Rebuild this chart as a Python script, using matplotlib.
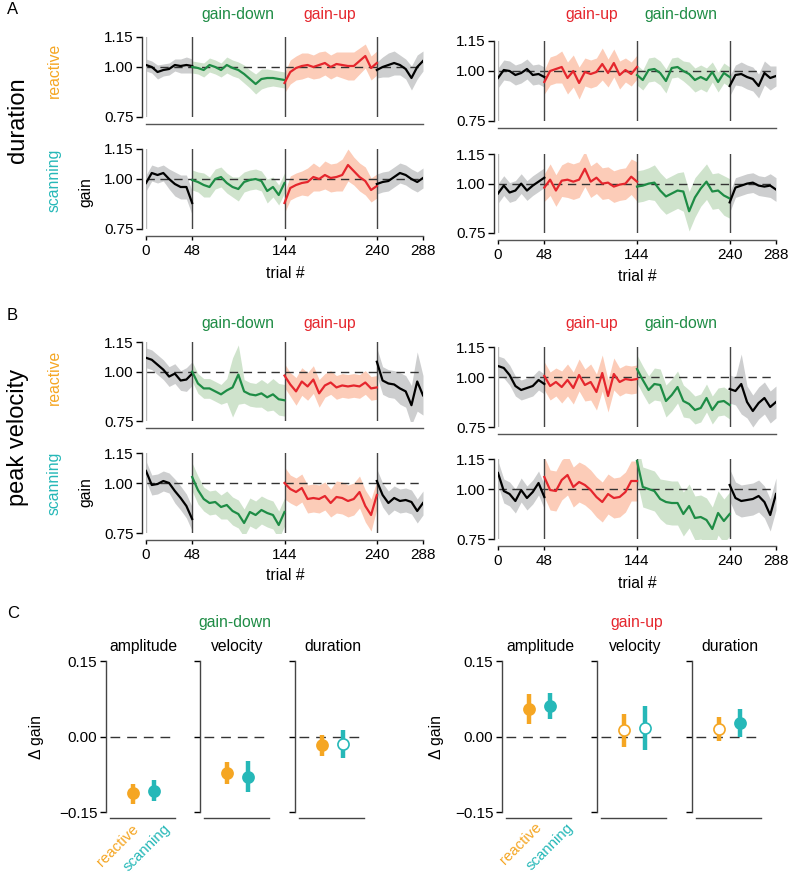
import numpy as np
import matplotlib
matplotlib.use("Agg")
import matplotlib.pyplot as plt

W, H = 788, 880

plt.rcParams.update({
    "font.family": ["Liberation Sans", "DejaVu Sans"],
    "font.size": 11,
    "axes.linewidth": 1.0,
    "xtick.major.size": 3,
    "ytick.major.size": 3,
    "xtick.major.width": 1.0,
    "ytick.major.width": 1.0,
    "xtick.labelsize": 11,
    "ytick.labelsize": 11,
})

GREEN = "#1E8C45"
RED = "#E5262D"
ORANGE = "#F5A623"
CYAN = "#26B8B8"
BAND = {"k": "#CDCECF", GREEN: "#CFE3CC", RED: "#FCCCB8"}
FS = 11.3

# trial blocks; values sampled every 6 trials inside each block
SEG_EDGES = [0, 48, 144, 240, 288]
STEP = 6

# ---- A: duration gain, left (down then up) / right (up then down) ----
DUR_REACT_L = [
    [1.01, 1.00, 0.975, 0.985, 0.99, 1.01, 1.005, 1.01, 1.005],
    [1.0, 0.995, 0.985, 1.01, 1.0, 0.985, 1.01, 0.995, 0.985, 0.965, 0.94, 0.915, 0.94, 0.945, 0.945, 0.94, 0.935],
    [0.92, 0.975, 0.995, 1.005, 1.01, 1.0, 1.01, 1.02, 1.0, 1.015, 1.01, 1.005, 1.005, 1.03, 1.055, 0.995, 1.02],
    [0.985, 1.0, 1.01, 1.02, 1.01, 0.99, 0.945, 1.0, 1.03],
]
DUR_REACT_L_SD = [
    [0.03, 0.03, 0.035, 0.03, 0.03, 0.03, 0.035, 0.04, 0.035],
    [0.03, 0.03, 0.035, 0.035, 0.035, 0.035, 0.04, 0.04, 0.04, 0.045, 0.045, 0.05, 0.05, 0.045, 0.04, 0.04, 0.04],
    [0.05, 0.06, 0.06, 0.065, 0.06, 0.06, 0.065, 0.06, 0.06, 0.06, 0.065, 0.07, 0.07, 0.065, 0.06, 0.06, 0.06],
    [0.04, 0.05, 0.06, 0.06, 0.05, 0.05, 0.06, 0.06, 0.05],
]
DUR_SCAN_L = [
    [0.98, 1.03, 1.02, 1.03, 1.0, 0.975, 0.96, 0.96, 0.88],
    [0.995, 0.985, 0.97, 0.96, 1.0, 1.01, 0.98, 0.96, 0.95, 0.985, 0.995, 1.0, 0.99, 0.94, 0.96, 0.92, 0.98],
    [0.88, 0.955, 0.97, 0.98, 0.985, 1.01, 1.0, 1.02, 1.005, 1.01, 1.02, 1.07, 1.04, 1.01, 0.99, 0.945, 0.965],
    [0.975, 0.985, 0.99, 1.01, 1.03, 1.02, 1.0, 0.985, 1.005],
]
DUR_SCAN_L_SD = [
    [0.04, 0.04, 0.04, 0.04, 0.05, 0.06, 0.06, 0.06, 0.06],
    [0.05, 0.05, 0.06, 0.05, 0.05, 0.05, 0.05, 0.05, 0.06, 0.05, 0.05, 0.05, 0.05, 0.06, 0.05, 0.05, 0.05],
    [0.05, 0.06, 0.06, 0.06, 0.07, 0.07, 0.06, 0.07, 0.07, 0.07, 0.08, 0.08, 0.07, 0.07, 0.07, 0.06, 0.06],
    [0.05, 0.05, 0.05, 0.05, 0.05, 0.05, 0.05, 0.05, 0.05],
]
DUR_REACT_R = [
    [0.965, 1.005, 1.0, 0.98, 0.99, 1.01, 0.98, 0.985, 0.97],
    [0.945, 1.0, 1.01, 1.02, 0.965, 1.0, 0.94, 0.995, 0.985, 0.995, 1.035, 0.99, 1.04, 0.98, 1.005, 0.985, 1.02],
    [0.98, 0.955, 1.005, 1.01, 0.99, 0.95, 1.015, 1.02, 1.0, 0.985, 0.955, 0.97, 0.955, 0.995, 0.945, 0.99, 0.97],
    [0.925, 0.98, 0.985, 0.97, 0.96, 0.925, 0.99, 0.965, 0.975],
]
DUR_REACT_R_SD = [
    [0.05, 0.05, 0.05, 0.05, 0.05, 0.05, 0.05, 0.05, 0.05],
    [0.06, 0.07, 0.07, 0.08, 0.08, 0.08, 0.08, 0.07, 0.07, 0.07, 0.08, 0.07, 0.07, 0.07, 0.06, 0.06, 0.06],
    [0.05, 0.05, 0.06, 0.06, 0.06, 0.06, 0.05, 0.05, 0.05, 0.06, 0.06, 0.06, 0.06, 0.05, 0.05, 0.05, 0.05],
    [0.05, 0.05, 0.06, 0.06, 0.06, 0.06, 0.06, 0.06, 0.05],
]
DUR_SCAN_R = [
    [0.95, 0.99, 0.955, 0.965, 1.0, 0.965, 0.99, 1.01, 1.03],
    [0.98, 1.02, 0.965, 1.015, 1.02, 1.01, 1.02, 1.075, 1.01, 1.03, 1.0, 1.005, 0.985, 0.995, 1.0, 1.035, 1.01],
    [0.985, 0.99, 1.0, 1.005, 0.965, 0.935, 0.95, 0.965, 0.96, 0.86, 0.93, 0.975, 1.01, 0.96, 0.965, 0.94, 0.925],
    [0.905, 0.98, 0.99, 1.0, 1.005, 0.99, 0.985, 0.99, 0.97],
]
DUR_SCAN_R_SD = [
    [0.05, 0.05, 0.05, 0.05, 0.05, 0.05, 0.05, 0.05, 0.05],
    [0.07, 0.08, 0.08, 0.08, 0.09, 0.09, 0.09, 0.09, 0.08, 0.08, 0.08, 0.08, 0.08, 0.08, 0.08, 0.09, 0.1],
    [0.08, 0.08, 0.08, 0.09, 0.09, 0.09, 0.09, 0.09, 0.1, 0.1, 0.1, 0.09, 0.09, 0.09, 0.09, 0.1, 0.1],
    [0.05, 0.05, 0.05, 0.05, 0.05, 0.05, 0.05, 0.06, 0.06],
]

# ---- B: peak velocity gain ----
VEL_REACT_L = [
    [1.07, 1.06, 1.035, 1.01, 0.975, 0.99, 0.955, 0.96, 0.99],
    [1.0, 0.94, 0.915, 0.915, 0.9, 0.885, 0.905, 0.92, 0.985, 0.9, 0.885, 0.88, 0.89, 0.87, 0.885, 0.86, 0.855],
    [0.98, 0.935, 0.9, 0.95, 0.925, 0.96, 0.89, 0.93, 0.945, 0.92, 0.93, 0.925, 0.93, 0.925, 0.945, 0.915, 0.92],
    [1.05, 0.955, 0.94, 0.935, 0.915, 0.9, 0.83, 0.95, 0.88],
]
VEL_REACT_L_SD = [
    [0.05, 0.05, 0.05, 0.05, 0.05, 0.05, 0.05, 0.06, 0.06],
    [0.05, 0.05, 0.05, 0.05, 0.05, 0.05, 0.06, 0.15, 0.15, 0.06, 0.06, 0.06, 0.07, 0.07, 0.08, 0.08, 0.08],
    [0.06, 0.06, 0.07, 0.07, 0.07, 0.07, 0.07, 0.06, 0.06, 0.06, 0.06, 0.06, 0.06, 0.06, 0.06, 0.06, 0.06],
    [0.07, 0.07, 0.07, 0.07, 0.08, 0.08, 0.1, 0.15, 0.1],
]
VEL_SCAN_L = [
    [1.06, 0.99, 0.995, 1.01, 1.0, 0.96, 0.925, 0.885, 0.82],
    [1.03, 0.965, 0.92, 0.9, 0.905, 0.88, 0.89, 0.86, 0.845, 0.8, 0.855, 0.84, 0.865, 0.85, 0.84, 0.79, 0.855],
    [1.0, 0.97, 0.955, 0.975, 0.92, 0.925, 0.92, 0.935, 0.9, 0.93, 0.925, 0.91, 0.92, 0.955, 0.885, 0.84, 0.94],
    [1.01, 0.94, 0.9, 0.925, 0.91, 0.915, 0.905, 0.86, 0.9],
]
VEL_SCAN_L_SD = [
    [0.05, 0.05, 0.05, 0.05, 0.05, 0.06, 0.06, 0.06, 0.06],
    [0.07, 0.07, 0.06, 0.06, 0.06, 0.06, 0.07, 0.07, 0.07, 0.07, 0.07, 0.07, 0.07, 0.07, 0.07, 0.07, 0.07],
    [0.08, 0.07, 0.07, 0.07, 0.07, 0.07, 0.07, 0.07, 0.07, 0.08, 0.08, 0.08, 0.08, 0.08, 0.08, 0.08, 0.07],
    [0.06, 0.06, 0.06, 0.06, 0.06, 0.06, 0.06, 0.06, 0.06],
]
VEL_REACT_R = [
    [1.055, 1.045, 1.01, 0.955, 0.935, 0.945, 0.955, 0.985, 0.965],
    [1.005, 0.955, 0.975, 0.95, 0.985, 0.945, 1.01, 0.96, 0.975, 0.925, 1.02, 0.905, 1.015, 0.975, 0.99, 0.985, 0.99],
    [1.04, 0.985, 0.935, 0.965, 0.96, 0.88, 0.91, 0.95, 0.88, 0.865, 0.835, 0.845, 0.895, 0.835, 0.875, 0.88, 0.86],
    [0.94, 0.93, 0.965, 0.875, 0.83, 0.87, 0.895, 0.85, 0.875],
]
VEL_REACT_R_SD = [
    [0.05, 0.05, 0.05, 0.05, 0.05, 0.05, 0.05, 0.05, 0.05],
    [0.07, 0.07, 0.07, 0.08, 0.08, 0.08, 0.08, 0.08, 0.09, 0.09, 0.09, 0.08, 0.08, 0.07, 0.07, 0.07, 0.07],
    [0.07, 0.07, 0.07, 0.08, 0.08, 0.08, 0.08, 0.08, 0.08, 0.07, 0.07, 0.07, 0.07, 0.07, 0.07, 0.07, 0.07],
    [0.07, 0.07, 0.15, 0.08, 0.08, 0.08, 0.08, 0.08, 0.08],
]
VEL_SCAN_R = [
    [1.08, 0.99, 0.975, 0.94, 0.995, 0.955, 0.985, 1.03, 0.96],
    [1.06, 0.995, 0.99, 1.045, 1.07, 1.01, 1.035, 1.02, 0.995, 0.96, 0.935, 0.975, 0.955, 0.96, 0.985, 1.04, 1.04],
    [1.14, 1.01, 1.0, 0.99, 0.95, 0.935, 0.93, 0.93, 0.875, 0.915, 0.855, 0.86, 0.845, 0.8, 0.88, 0.84, 0.875],
    [1.02, 0.955, 0.94, 0.945, 0.95, 0.965, 0.935, 0.87, 0.975],
]
VEL_SCAN_R_SD = [
    [0.06, 0.06, 0.06, 0.06, 0.06, 0.06, 0.06, 0.06, 0.06],
    [0.1, 0.1, 0.1, 0.1, 0.1, 0.1, 0.1, 0.1, 0.1, 0.1, 0.1, 0.1, 0.1, 0.1, 0.1, 0.1, 0.1],
    [0.1, 0.1, 0.1, 0.1, 0.1, 0.11, 0.11, 0.11, 0.11, 0.11, 0.11, 0.11, 0.11, 0.11, 0.11, 0.11, 0.11],
    [0.08, 0.08, 0.08, 0.08, 0.08, 0.08, 0.08, 0.08, 0.08],
]

# ---- C: change in gain, mean and error bar ----
C_MEASURES = ["amplitude", "velocity", "duration"]
DOWN_REACT = [-0.113, -0.072, -0.017]
DOWN_REACT_LO = [-0.134, -0.094, -0.038]
DOWN_REACT_HI = [-0.094, -0.050, 0.002]
DOWN_SCAN = [-0.108, -0.080, -0.015]
DOWN_SCAN_LO = [-0.129, -0.111, -0.042]
DOWN_SCAN_HI = [-0.086, -0.048, 0.013]
DOWN_REACT_OPEN = [False, False, False]
DOWN_SCAN_OPEN = [False, False, True]
UP_REACT = [0.055, 0.012, 0.015]
UP_REACT_LO = [0.025, -0.021, -0.008]
UP_REACT_HI = [0.085, 0.044, 0.038]
UP_SCAN = [0.060, 0.017, 0.027]
UP_SCAN_LO = [0.034, -0.026, -0.001]
UP_SCAN_HI = [0.087, 0.060, 0.055]
UP_REACT_OPEN = [False, True, True]
UP_SCAN_OPEN = [False, True, False]


def px_axes(fig, x0, y0, x1, y1):
    return fig.add_axes([x0 / W, 1 - y1 / H, (x1 - x0) / W, (y1 - y0) / H])


def ftext(fig, x, y, s, **kw):
    kw.setdefault("ha", "center")
    kw.setdefault("va", "center")
    fig.text(x / W, 1 - y / H, s, **kw)


def ts_panel(fig, box, means, sds, colors, bottom_ticks):
    ax = px_axes(fig, *box)
    for i in range(4):
        x = np.arange(SEG_EDGES[i], SEG_EDGES[i + 1] + 1, STEP)
        m = np.array(means[i])
        s = np.array(sds[i])
        ax.fill_between(x, m - s, m + s, color=BAND[colors[i]], lw=0, zorder=1)
    ax.plot([0, 288], [1, 1], color="#333333", lw=1.0, dashes=(6, 4), zorder=2)
    ax.axvline(0, color="#BBBBBB", lw=1.0, zorder=3)
    for xv in SEG_EDGES[1:4]:
        ax.axvline(xv, color="#444444", lw=1.0, zorder=3)
    for i in range(4):
        x = np.arange(SEG_EDGES[i], SEG_EDGES[i + 1] + 1, STEP)
        ax.plot(x, means[i], color=colors[i], lw=1.6, zorder=4)
    ax.set_xlim(0, 288)
    ax.set_ylim(0.75, 1.15)
    ax.spines[["top", "right"]].set_visible(False)
    ax.spines["left"].set_position(("outward", 3))
    ax.spines["left"].set_bounds(0.75, 1.15)
    ax.spines["bottom"].set_position(("outward", 5))
    ax.spines["left"].set_color("#333333")
    ax.spines["bottom"].set_color("#555555")
    ax.set_yticks([0.75, 1.0, 1.15])
    ax.set_yticklabels(["0.75", "1.00", "1.15"])
    ax.tick_params(axis="y", length=4, pad=2)
    if bottom_ticks:
        ax.set_xticks([0, 48, 144, 240, 288])
        ax.tick_params(axis="x", length=3, pad=3)
    else:
        ax.set_xticks([])
    return ax


def c_panel(fig, spine_x, measure_idx, vals, show_labels):
    ax = px_axes(fig, spine_x + 3, 661, spine_x + 68, 812)
    (r, rlo, rhi, ropen), (s, slo, shi, sopen) = vals
    for xpos, m, lo, hi, op, col in [(1, r, rlo, rhi, ropen, ORANGE),
                                     (2, s, slo, shi, sopen, CYAN)]:
        ax.plot([xpos, xpos], [lo[measure_idx], hi[measure_idx]], color=col,
                lw=3.2, solid_capstyle="butt", zorder=3)
        ax.plot(xpos, m[measure_idx], "o", ms=8,
                mfc="white" if op[measure_idx] else col, mec=col, mew=1.2, zorder=4)
    ax.plot([-0.05, 2.95], [0, 0], color="#333333", lw=1.0, dashes=(7, 5), zorder=1)
    ax.set_xlim(-0.05, 2.95)
    ax.set_ylim(-0.15, 0.15)
    ax.spines[["top", "right"]].set_visible(False)
    ax.spines["left"].set_position(("outward", 3))
    ax.spines["bottom"].set_position(("outward", 4))
    ax.spines["left"].set_color("#444444")
    ax.spines["bottom"].set_color("#444444")
    ax.set_xticks([])
    ax.set_yticks([-0.15, 0, 0.15])
    if show_labels:
        ax.set_yticklabels(["\u22120.15", "0.00", "0.15"])
    else:
        ax.set_yticklabels([])
    ax.tick_params(axis="y", length=4, pad=2)
    return ax


fig = plt.figure(figsize=(W / 100, H / 100), dpi=100)

k = "k"
LEFT_COLS = [k, GREEN, RED, k]
RIGHT_COLS = [k, RED, GREEN, k]

# panel A
ts_panel(fig, (146, 37, 423, 117), DUR_REACT_L, DUR_REACT_L_SD, LEFT_COLS, False)
ts_panel(fig, (146, 149, 423, 229), DUR_SCAN_L, DUR_SCAN_L_SD, LEFT_COLS, True)
ts_panel(fig, (498, 41, 776, 121), DUR_REACT_R, DUR_REACT_R_SD, RIGHT_COLS, False)
ts_panel(fig, (498, 154, 776, 233), DUR_SCAN_R, DUR_SCAN_R_SD, RIGHT_COLS, True)

# panel B
ts_panel(fig, (146, 342, 423, 421), VEL_REACT_L, VEL_REACT_L_SD, LEFT_COLS, False)
ts_panel(fig, (146, 453, 423, 533), VEL_SCAN_L, VEL_SCAN_L_SD, LEFT_COLS, True)
ts_panel(fig, (498, 347, 776, 427), VEL_REACT_R, VEL_REACT_R_SD, RIGHT_COLS, False)
ts_panel(fig, (498, 459, 776, 539), VEL_SCAN_R, VEL_SCAN_R_SD, RIGHT_COLS, True)

for y_top, y_react, y_scan, y_gain, y_trial_l, y_trial_r, letter, big, y_big, y_letter in [
        (15, 70, 180, 192, 273, 276, "A", "duration", 120, 9),
        (323, 377, 483, 492, 576, 583, "B", "peak velocity", 437, 315)]:
    ftext(fig, 7, y_letter, letter, fontsize=12, ha="left")
    ftext(fig, 18, y_big, big, fontsize=17, rotation=90)
    ftext(fig, 54, y_react, "reactive", color=ORANGE, fontsize=FS, rotation=90)
    ftext(fig, 54, y_scan, "scanning", color=CYAN, fontsize=FS, rotation=90)
    ftext(fig, 86, y_gain, "gain", fontsize=FS, rotation=90)
    ftext(fig, 238, y_top, "gain-down", color=GREEN, fontsize=FS)
    ftext(fig, 330, y_top, "gain-up", color=RED, fontsize=FS)
    ftext(fig, 592, y_top, "gain-up", color=RED, fontsize=FS)
    ftext(fig, 681, y_top, "gain-down", color=GREEN, fontsize=FS)
    ftext(fig, 285, y_trial_l, "trial #", fontsize=FS)
    ftext(fig, 637, y_trial_r, "trial #", fontsize=FS)

# panel C
down_vals = ((DOWN_REACT, DOWN_REACT_LO, DOWN_REACT_HI, DOWN_REACT_OPEN),
             (DOWN_SCAN, DOWN_SCAN_LO, DOWN_SCAN_HI, DOWN_SCAN_OPEN))
up_vals = ((UP_REACT, UP_REACT_LO, UP_REACT_HI, UP_REACT_OPEN),
           (UP_SCAN, UP_SCAN_LO, UP_SCAN_HI, UP_SCAN_OPEN))

ftext(fig, 7, 613, "C", fontsize=12, ha="left")
for spines, vals, title, tcol, tx, title_xs, dgx, lab_xy in [
        ([107, 201, 296], down_vals, "gain-down", GREEN, 235, [143, 237, 333], 37,
         [(131, 822), (163, 822)]),
        ([503, 598, 693], up_vals, "gain-up", RED, 637, [540, 635, 730], 437,
         [(534, 820), (566, 821)])]:
    ftext(fig, tx, 622, title, color=tcol, fontsize=FS)
    for j, sx in enumerate(spines):
        c_panel(fig, sx, j, vals, j == 0)
        ftext(fig, title_xs[j], 646, C_MEASURES[j], fontsize=FS)
    ftext(fig, dgx, 737, "\u0394 gain", fontsize=FS, rotation=90)
    ftext(fig, lab_xy[0][0], lab_xy[0][1], "reactive", color=ORANGE, fontsize=10.8,
          rotation=45, ha="right", va="top", rotation_mode="anchor")
    ftext(fig, lab_xy[1][0], lab_xy[1][1], "scanning", color=CYAN, fontsize=10.8,
          rotation=45, ha="right", va="top", rotation_mode="anchor")

fig.savefig("out.png", dpi=100)
